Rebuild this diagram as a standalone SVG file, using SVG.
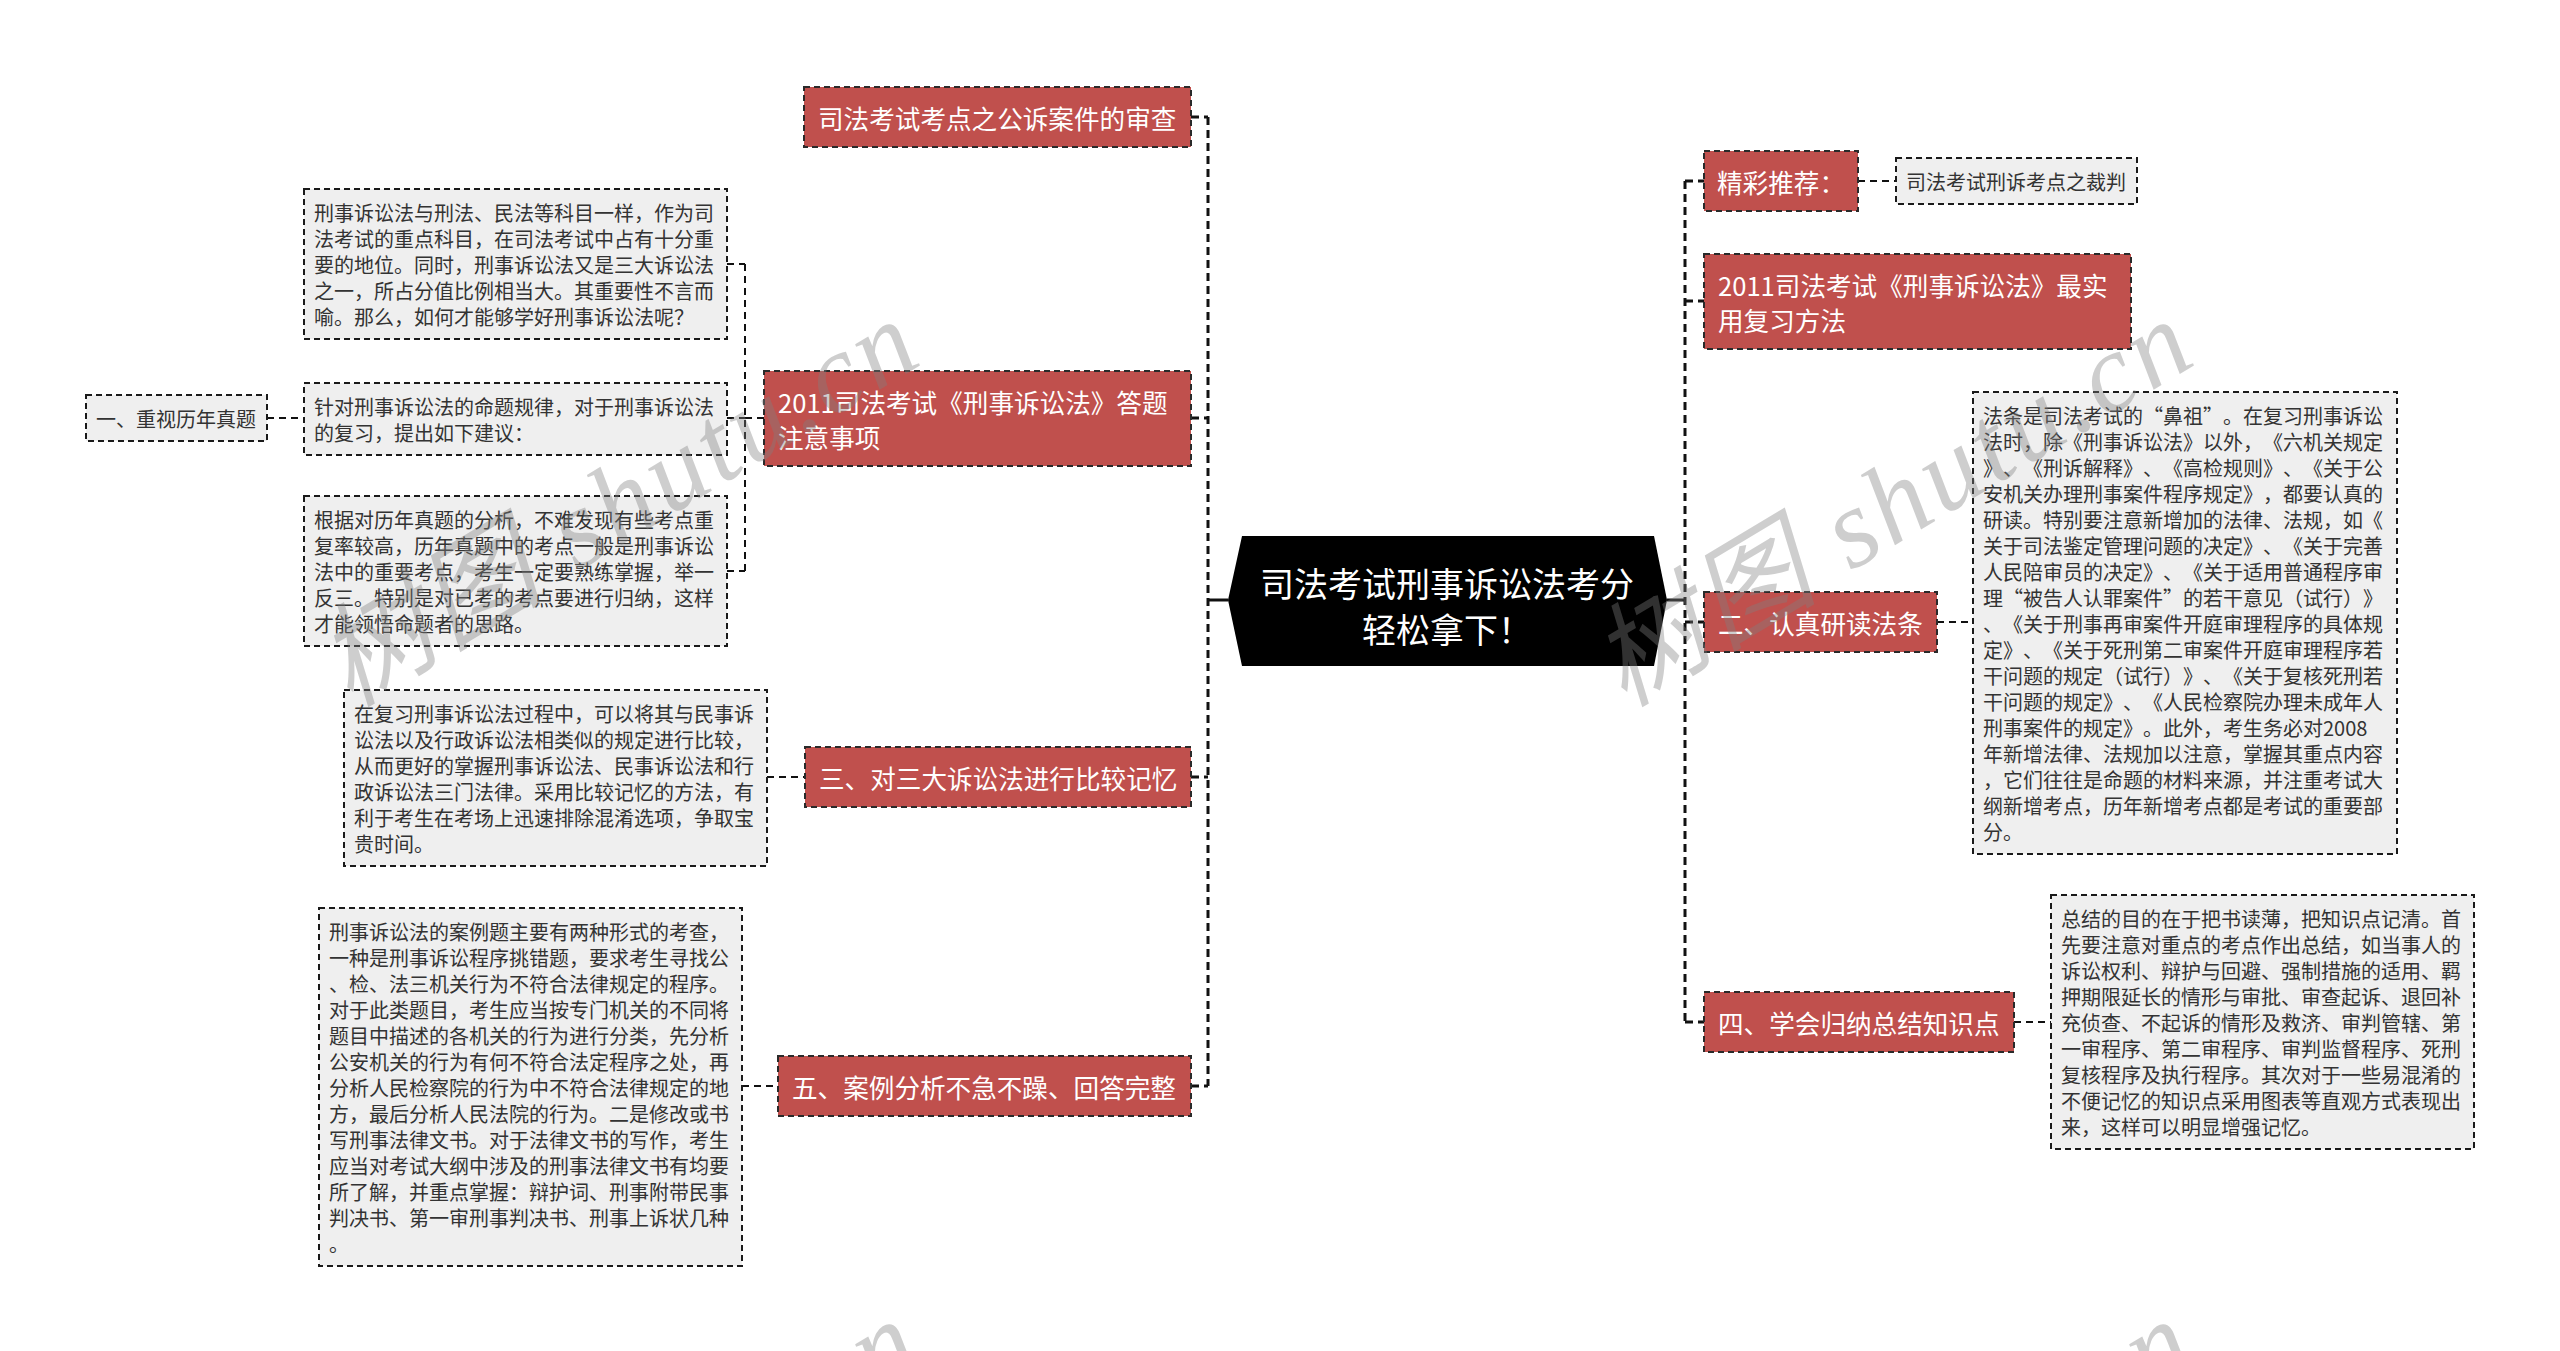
<svg xmlns="http://www.w3.org/2000/svg" width="2560" height="1351" viewBox="0 0 2560 1351">
<style>
text{text-spacing-trim:space-all}
.bg{fill:#ffffff}
.red rect{fill:#c0504d;stroke:#2a2a2a;stroke-width:2;stroke-dasharray:6 4}
.red text{fill:#ffffff;font-family:"Noto Sans CJK SC","Microsoft YaHei",sans-serif;font-size:25.6px;dominant-baseline:central}
.note rect{fill:#efefef;stroke:#1a1a1a;stroke-width:2;stroke-dasharray:6 4}
.note text{fill:#333333;font-family:"Noto Sans CJK SC","Microsoft YaHei",sans-serif;font-size:20px;dominant-baseline:central}
.trunk{fill:none;stroke:#111;stroke-width:3;stroke-dasharray:8 5}
.branch{fill:none;stroke:#111;stroke-width:2;stroke-dasharray:7 5}
.solid{fill:none;stroke:#111;stroke-width:3}
.wm{fill:#808080;opacity:0.38;font-family:"Liberation Serif","Noto Sans CJK SC",serif;font-style:italic;font-size:112px}
</style>
<rect class="bg" x="0" y="0" width="2560" height="1351"/>

<g id="connectors">
  <path class="solid" d="M1228,600 H1208"/>
  <path class="trunk" d="M1208,117 V1086 M1191,117 H1208 M1191,418 H1208 M1191,777 H1208 M1191,1086 H1208"/>
  <path class="solid" d="M1667,600 H1685"/>
  <path class="trunk" d="M1685,181 V1022 M1685,181 H1704 M1685,301 H1704 M1685,622 H1704 M1685,1022 H1704"/>
  <path class="branch" d="M764,418 H745 M745,264 V571 M727,264 H745 M727,418 H745 M727,571 H745"/>
  <path class="branch" d="M267,418 H304"/>
  <path class="branch" d="M767,777 H805"/>
  <path class="branch" d="M742,1086 H778"/>
  <path class="branch" d="M1858,181 H1896"/>
  <path class="branch" d="M1937,622 H1973"/>
  <path class="branch" d="M2014,1022 H2051"/>
</g>

<g id="center">
  <polygon points="1228,600 1242,536 1654,536 1667,600 1654,666 1242,666" fill="#000000"/>
  <text x="1447" y="582" fill="#ffffff" font-family="Noto Sans CJK SC, Microsoft YaHei, sans-serif" font-size="34" text-anchor="middle" dominant-baseline="central">司法考试刑事诉讼法考分</text>
  <text x="1447" y="628" fill="#ffffff" font-family="Noto Sans CJK SC, Microsoft YaHei, sans-serif" font-size="34" text-anchor="middle" dominant-baseline="central">轻松拿下！</text>
</g>

<g id="node-l1" class="red">
  <rect x="804" y="87" width="387" height="60"/>
  <text x="818" y="117">司法考试考点之公诉案件的审查</text>
</g>
<g id="node-l2" class="red">
  <rect x="764" y="371" width="427" height="95"/>
  <text x="778" y="401">2011司法考试《刑事诉讼法》答题</text>
  <text x="778" y="436">注意事项</text>
</g>
<g id="node-l3" class="red">
  <rect x="805" y="747" width="386" height="60"/>
  <text x="819" y="777">三、对三大诉讼法进行比较记忆</text>
</g>
<g id="node-l4" class="red">
  <rect x="778" y="1056" width="413" height="60"/>
  <text x="792" y="1086">五、案例分析不急不躁、回答完整</text>
</g>
<g id="node-r1" class="red">
  <rect x="1704" y="151" width="154" height="60"/>
  <text x="1717" y="181">精彩推荐：</text>
</g>
<g id="node-r2" class="red">
  <rect x="1704" y="254" width="427" height="95"/>
  <text x="1718" y="284">2011司法考试《刑事诉讼法》最实</text>
  <text x="1718" y="319">用复习方法</text>
</g>
<g id="node-r3" class="red">
  <rect x="1704" y="592" width="233" height="60"/>
  <text x="1718" y="622">二、认真研读法条</text>
</g>
<g id="node-r4" class="red">
  <rect x="1704" y="992" width="310" height="60"/>
  <text x="1718" y="1022">四、学会归纳总结知识点</text>
</g>

<g id="note-a1" class="note">
  <rect x="304" y="189" width="423" height="150"/>
  <text x="314" y="212">刑事诉讼法与刑法、民法等科目一样，作为司</text>
  <text x="314" y="238">法考试的重点科目，在司法考试中占有十分重</text>
  <text x="314" y="264">要的地位。同时，刑事诉讼法又是三大诉讼法</text>
  <text x="314" y="290">之一，所占分值比例相当大。其重要性不言而</text>
  <text x="314" y="316">喻。那么，如何才能够学好刑事诉讼法呢？</text>
</g>
<g id="note-a2" class="note">
  <rect x="304" y="383" width="423" height="72"/>
  <text x="314" y="406">针对刑事诉讼法的命题规律，对于刑事诉讼法</text>
  <text x="314" y="432">的复习，提出如下建议：</text>
</g>
<g id="note-a2a" class="note">
  <rect x="86" y="395" width="181" height="46"/>
  <text x="96" y="418">一、重视历年真题</text>
</g>
<g id="note-a3" class="note">
  <rect x="304" y="496" width="423" height="150"/>
  <text x="314" y="519">根据对历年真题的分析，不难发现有些考点重</text>
  <text x="314" y="545">复率较高，历年真题中的考点一般是刑事诉讼</text>
  <text x="314" y="571">法中的重要考点，考生一定要熟练掌握，举一</text>
  <text x="314" y="597">反三。特别是对已考的考点要进行归纳，这样</text>
  <text x="314" y="623">才能领悟命题者的思路。</text>
</g>
<g id="note-b" class="note">
  <rect x="344" y="690" width="423" height="176"/>
  <text x="354" y="713">在复习刑事诉讼法过程中，可以将其与民事诉</text>
  <text x="354" y="739">讼法以及行政诉讼法相类似的规定进行比较，</text>
  <text x="354" y="765">从而更好的掌握刑事诉讼法、民事诉讼法和行</text>
  <text x="354" y="791">政诉讼法三门法律。采用比较记忆的方法，有</text>
  <text x="354" y="817">利于考生在考场上迅速排除混淆选项，争取宝</text>
  <text x="354" y="843">贵时间。</text>
</g>
<g id="note-c" class="note">
  <rect x="319" y="908" width="423" height="358"/>
  <text x="329" y="931">刑事诉讼法的案例题主要有两种形式的考查，</text>
  <text x="329" y="957">一种是刑事诉讼程序挑错题，要求考生寻找公</text>
  <text x="329" y="983">、检、法三机关行为不符合法律规定的程序。</text>
  <text x="329" y="1009">对于此类题目，考生应当按专门机关的不同将</text>
  <text x="329" y="1035">题目中描述的各机关的行为进行分类，先分析</text>
  <text x="329" y="1061">公安机关的行为有何不符合法定程序之处，再</text>
  <text x="329" y="1087">分析人民检察院的行为中不符合法律规定的地</text>
  <text x="329" y="1113">方，最后分析人民法院的行为。二是修改或书</text>
  <text x="329" y="1139">写刑事法律文书。对于法律文书的写作，考生</text>
  <text x="329" y="1165">应当对考试大纲中涉及的刑事法律文书有均要</text>
  <text x="329" y="1191">所了解，并重点掌握：辩护词、刑事附带民事</text>
  <text x="329" y="1217">判决书、第一审刑事判决书、刑事上诉状几种</text>
  <text x="329" y="1243">。</text>
</g>
<g id="note-r1" class="note">
  <rect x="1896" y="158" width="241" height="46"/>
  <text x="1906" y="181">司法考试刑诉考点之裁判</text>
</g>
<g id="note-r2" class="note">
  <rect x="1973" y="392" width="424" height="462"/>
  <text x="1983" y="415">法条是司法考试的“鼻祖”。在复习刑事诉讼</text>
  <text x="1983" y="441">法时，除《刑事诉讼法》以外，《六机关规定</text>
  <text x="1983" y="467">》、《刑诉解释》、《高检规则》、《关于公</text>
  <text x="1983" y="493">安机关办理刑事案件程序规定》，都要认真的</text>
  <text x="1983" y="519">研读。特别要注意新增加的法律、法规，如《</text>
  <text x="1983" y="545">关于司法鉴定管理问题的决定》、《关于完善</text>
  <text x="1983" y="571">人民陪审员的决定》、《关于适用普通程序审</text>
  <text x="1983" y="597">理“被告人认罪案件”的若干意见（试行）》</text>
  <text x="1983" y="623">、《关于刑事再审案件开庭审理程序的具体规</text>
  <text x="1983" y="649">定》、《关于死刑第二审案件开庭审理程序若</text>
  <text x="1983" y="675">干问题的规定（试行）》、《关于复核死刑若</text>
  <text x="1983" y="701">干问题的规定》、《人民检察院办理未成年人</text>
  <text x="1983" y="727">刑事案件的规定》。此外，考生务必对2008</text>
  <text x="1983" y="753">年新增法律、法规加以注意，掌握其重点内容</text>
  <text x="1983" y="779">，它们往往是命题的材料来源，并注重考试大</text>
  <text x="1983" y="805">纲新增考点，历年新增考点都是考试的重要部</text>
  <text x="1983" y="831">分。</text>
</g>
<g id="note-r3" class="note">
  <rect x="2051" y="895" width="423" height="254"/>
  <text x="2061" y="918">总结的目的在于把书读薄，把知识点记清。首</text>
  <text x="2061" y="944">先要注意对重点的考点作出总结，如当事人的</text>
  <text x="2061" y="970">诉讼权利、辩护与回避、强制措施的适用、羁</text>
  <text x="2061" y="996">押期限延长的情形与审批、审查起诉、退回补</text>
  <text x="2061" y="1022">充侦查、不起诉的情形及救济、审判管辖、第</text>
  <text x="2061" y="1048">一审程序、第二审程序、审判监督程序、死刑</text>
  <text x="2061" y="1074">复核程序及执行程序。其次对于一些易混淆的</text>
  <text x="2061" y="1100">不便记忆的知识点采用图表等直观方式表现出</text>
  <text x="2061" y="1126">来，这样可以明显增强记忆。</text>
</g>

<g id="watermark">
  <text class="wm" transform="translate(350,708) rotate(-31)" textLength="670" lengthAdjust="spacing">树图 shutu.cn</text>
  <text class="wm" transform="translate(1624,708) rotate(-31)" textLength="670" lengthAdjust="spacing">树图 shutu.cn</text>
  <text class="wm" transform="translate(350,1708) rotate(-31)" textLength="670" lengthAdjust="spacing">树图 shutu.cn</text>
  <text class="wm" transform="translate(1624,1708) rotate(-31)" textLength="670" lengthAdjust="spacing">树图 shutu.cn</text>
</g>
</svg>
